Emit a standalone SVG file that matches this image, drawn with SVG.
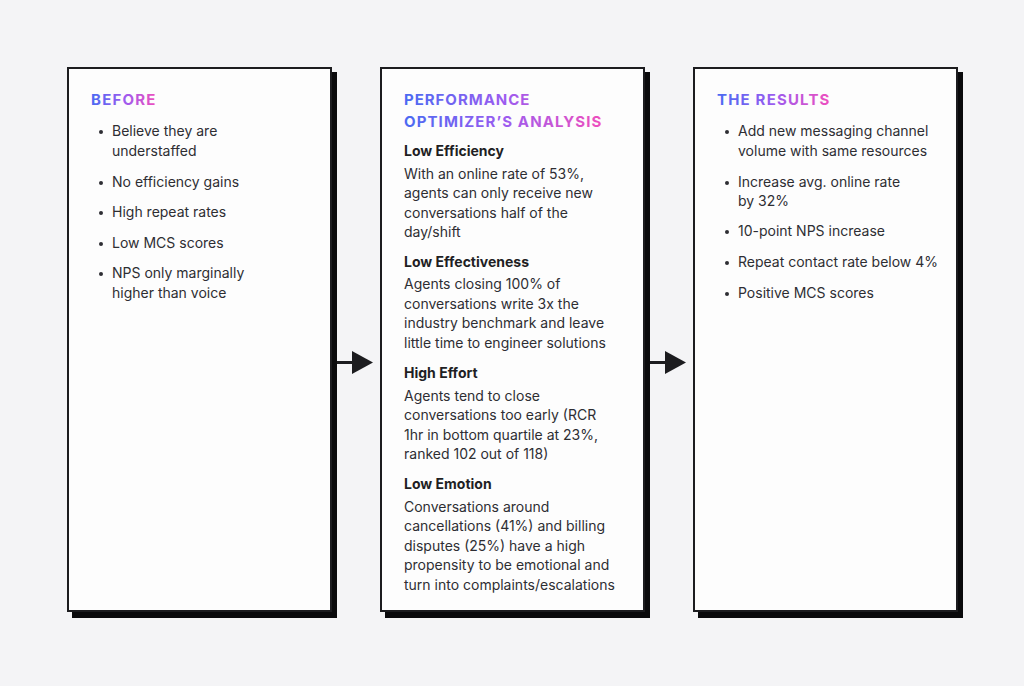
<svg xmlns="http://www.w3.org/2000/svg" width="1024" height="686" viewBox="0 0 1024 686">
<defs>
<style>
.card{fill:#fdfdfd;stroke:#1c1c1f;stroke-width:2}
.shadow{fill:#0a0a0c}
.title{font-family:Inter,"Liberation Sans",sans-serif;font-weight:700;font-size:15px;letter-spacing:1.6px}
.body{font-family:Inter,"Liberation Sans",sans-serif;font-size:14px;fill:#2e2e33}
.head{font-family:Inter,"Liberation Sans",sans-serif;font-size:14px;font-weight:700;fill:#1f1f24}
.bullet{fill:#2e2e33}
.conn{stroke:#1c1c1f;stroke-width:3;fill:none}
.tip{fill:#1c1c1f}
</style>
<linearGradient id="g1" gradientUnits="userSpaceOnUse" x1="91" y1="0" x2="157" y2="0"><stop offset="0" stop-color="#4a6af2"/><stop offset="0.5" stop-color="#9b5cf0"/><stop offset="1" stop-color="#f04ebd"/></linearGradient>
<linearGradient id="g2" gradientUnits="userSpaceOnUse" x1="404" y1="0" x2="603" y2="0"><stop offset="0" stop-color="#4a6af2"/><stop offset="0.5" stop-color="#9b5cf0"/><stop offset="1" stop-color="#f04ebd"/></linearGradient>
<linearGradient id="g3" gradientUnits="userSpaceOnUse" x1="717" y1="0" x2="831" y2="0"><stop offset="0" stop-color="#4a6af2"/><stop offset="0.5" stop-color="#9b5cf0"/><stop offset="1" stop-color="#f04ebd"/></linearGradient>
</defs>
<rect x="0" y="0" width="1024" height="686" fill="#f4f4f6"/>

<g id="before">
<rect class="shadow" x="72" y="72" width="265" height="546"/>
<rect class="card" x="68" y="68" width="263" height="543"/>
<text class="title" x="91" y="105" fill="url(#g1)" textLength="66">BEFORE</text>
<circle class="bullet" cx="101" cy="132" r="2"/>
<text class="body" x="112" y="136">Believe they are</text>
<text class="body" x="112" y="156">understaffed</text>
<circle class="bullet" cx="101" cy="183" r="2"/>
<text class="body" x="112" y="187">No efficiency gains</text>
<circle class="bullet" cx="101" cy="213" r="2"/>
<text class="body" x="112" y="217">High repeat rates</text>
<circle class="bullet" cx="101" cy="244" r="2"/>
<text class="body" x="112" y="248">Low MCS scores</text>
<circle class="bullet" cx="101" cy="274" r="2"/>
<text class="body" x="112" y="278">NPS only marginally</text>
<text class="body" x="112" y="298">higher than voice</text>
</g>

<g id="analysis">
<rect class="shadow" x="385" y="72" width="265" height="546"/>
<rect class="card" x="381" y="68" width="263" height="543"/>
<text class="title" x="404" y="105" fill="url(#g2)" textLength="127">PERFORMANCE</text>
<text class="title" x="404" y="127" fill="url(#g2)" textLength="199">OPTIMIZER’S ANALYSIS</text>
<text class="head" x="404" y="156">Low Efficiency</text>
<text class="body" x="404" y="179">With an online rate of 53%,</text>
<text class="body" x="404" y="198">agents can only receive new</text>
<text class="body" x="404" y="218">conversations half of the</text>
<text class="body" x="404" y="237">day/shift</text>
<text class="head" x="404" y="267">Low Effectiveness</text>
<text class="body" x="404" y="289">Agents closing 100% of</text>
<text class="body" x="404" y="309">conversations write 3x the</text>
<text class="body" x="404" y="328">industry benchmark and leave</text>
<text class="body" x="404" y="348">little time to engineer solutions</text>
<text class="head" x="404" y="378">High Effort</text>
<text class="body" x="404" y="401">Agents tend to close</text>
<text class="body" x="404" y="420">conversations too early (RCR</text>
<text class="body" x="404" y="440">1hr in bottom quartile at 23%,</text>
<text class="body" x="404" y="459">ranked 102 out of 118)</text>
<text class="head" x="404" y="489">Low Emotion</text>
<text class="body" x="404" y="512">Conversations around</text>
<text class="body" x="404" y="531">cancellations (41%) and billing</text>
<text class="body" x="404" y="551">disputes (25%) have a high</text>
<text class="body" x="404" y="570">propensity to be emotional and</text>
<text class="body" x="404" y="590">turn into complaints/escalations</text>
</g>

<g id="results">
<rect class="shadow" x="698" y="72" width="265" height="546"/>
<rect class="card" x="694" y="68" width="263" height="543"/>
<text class="title" x="717" y="105" fill="url(#g3)" textLength="114">THE RESULTS</text>
<circle class="bullet" cx="727" cy="132" r="2"/>
<text class="body" x="738" y="136">Add new messaging channel</text>
<text class="body" x="738" y="156">volume with same resources</text>
<circle class="bullet" cx="727" cy="183" r="2"/>
<text class="body" x="738" y="187">Increase avg. online rate</text>
<text class="body" x="738" y="206">by 32%</text>
<circle class="bullet" cx="727" cy="232" r="2"/>
<text class="body" x="738" y="236">10-point NPS increase</text>
<circle class="bullet" cx="727" cy="263" r="2"/>
<text class="body" x="738" y="267">Repeat contact rate below 4%</text>
<circle class="bullet" cx="727" cy="294" r="2"/>
<text class="body" x="738" y="298">Positive MCS scores</text>
</g>

<g id="connectors">
<line class="conn" x1="337" y1="362.5" x2="354" y2="362.5"/>
<polygon class="tip" points="352,351 373,362.5 352,374"/>
<line class="conn" x1="650" y1="362.5" x2="667" y2="362.5"/>
<polygon class="tip" points="665,351 686,362.5 665,374"/>
</g>
</svg>
